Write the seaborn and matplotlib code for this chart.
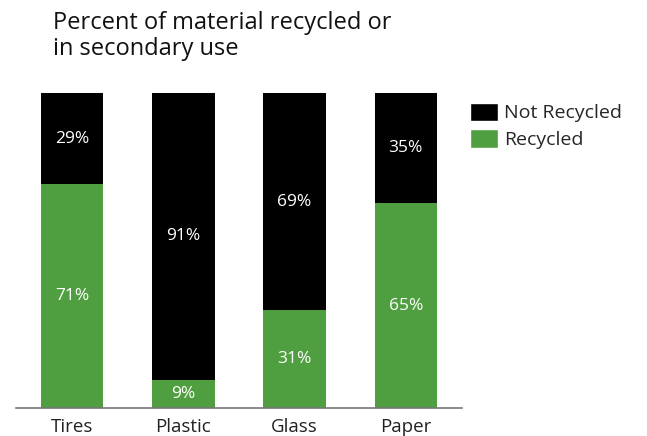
import pandas as pd
import seaborn as sns
import matplotlib.pyplot as plt
from matplotlib.patches import Patch

materials = ["Tires", "Plastic", "Glass", "Paper"]
recycled = [71, 9, 31, 65]
not_recycled = [29, 91, 69, 35]

green = "#4f9e3f"
black = "#000000"

sns.set_theme(style="white")
plt.rcParams['font.family'] = ['Open Sans', 'DejaVu Sans']

df = pd.DataFrame({"material": materials, "recycled": recycled, "not_recycled": not_recycled})
df["total"] = df["recycled"] + df["not_recycled"]

fig = plt.figure(figsize=(6.47, 4.36), dpi=100)
ax = fig.add_axes([0.0247, 0.0642, 0.6893, 0.7228])

# total bar (black) first, recycled (green) on top of it
sns.barplot(data=df, x="material", y="total", color=black, width=0.56, saturation=1,
            linewidth=0, ax=ax)
sns.barplot(data=df, x="material", y="recycled", color=green, width=0.56, saturation=1,
            linewidth=0, ax=ax)

for i, (r, n) in enumerate(zip(recycled, not_recycled)):
    ax.text(i, r / 2, f"{r}%", ha="center", va="center", color="white", fontsize=12.5)
    ax.text(i, r + n / 2, f"{n}%", ha="center", va="center", color="white", fontsize=12.5)

ax.set_ylim(0, 100)
ax.set_xlim(-0.505, 3.505)
ax.set_xlabel("")
ax.set_ylabel("")
ax.set_yticks([])
ax.tick_params(axis="x", length=0, labelsize=13.5, colors="#222222", pad=7)
sns.despine(ax=ax, left=True, top=True, right=True)
ax.spines["bottom"].set_color("#777777")
ax.spines["bottom"].set_linewidth(1.2)

handles = [Patch(facecolor=black, label="Not Recycled"), Patch(facecolor=green, label="Recycled")]
fig.legend(handles=handles, loc="upper left", bbox_to_anchor=(0.70, 0.805), frameon=False,
           fontsize=14, handlelength=1.4, handleheight=1.1, handletextpad=0.35, labelspacing=0.35)

fig.text(0.082, 0.975, "Percent of material recycled or\nin secondary use", ha="left", va="top",
         fontsize=17, color="#111111", linespacing=1.12)

fig.savefig("out.png", dpi=100)
